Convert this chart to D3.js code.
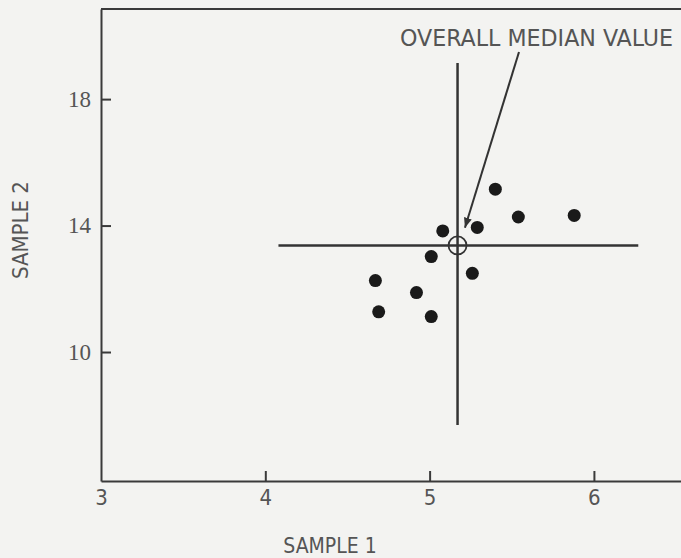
<!DOCTYPE html>
<html>
<head>
<meta charset="utf-8">
<script src="https://cdn.jsdelivr.net/npm/d3@7"></script>
<style>
  html, body { margin: 0; padding: 0; background: #f3f3f1; }
  svg { display: block; }
  .axis path, .axis line { stroke: #3a3a3a; stroke-width: 2; }
  .axis text { fill: #555; font-family: 'DejaVu Sans Condensed', sans-serif; }
</style>
</head>
<body>
<svg id="chart"></svg>
<script>
  // sample pairs
  var sample1 = [5.40, 5.54, 5.88, 5.29, 5.08, 5.01, 5.26, 4.67, 4.92, 4.69, 5.01];
  var sample2 = [15.15, 14.27, 14.32, 13.94, 13.83, 13.02, 12.49, 12.26, 11.88, 11.27, 11.12];

  var xTicks = [3, 4, 5, 6];
  var yTicks = [10, 14, 18];

  var median = { x: 5.17, y: 13.37 };
  var hLineX = [4.08, 6.27];
  var vLineY = [7.69, 19.14];
  var arrowFrom = { x: 5.544, y: 19.49 };
  var arrowTo = { x: 5.215, y: 13.93 };
  var labelText = 'OVERALL MEDIAN VALUE';

  var width = 681, height = 558;

  var svg = d3.select('#chart')
    .attr('width', width)
    .attr('height', height);

  var x = d3.scaleLinear().domain([3, 6.53]).range([101, 681]);
  var y = d3.scaleLinear().domain([5.92, 20.85]).range([481, 9]);

  var ink = '#333';

  // frame top
  svg.append('line')
    .attr('x1', x(3)).attr('x2', x(6.53))
    .attr('y1', y(20.85)).attr('y2', y(20.85))
    .attr('stroke', '#3a3a3a')
    .attr('stroke-width', 2);

  var xAxis = svg.append('g')
    .attr('class', 'axis')
    .attr('transform', 'translate(0,' + y(5.92) + ')')
    .call(d3.axisBottom(x).tickValues(xTicks).tickFormat(d3.format('d'))
      .tickSizeInner(-10).tickSizeOuter(0).tickPadding(8));
  xAxis.selectAll('text').style('font-size', '22px');
  xAxis.selectAll('.tick').filter(function(d) { return d === 3; }).select('line').remove();

  var yAxis = svg.append('g')
    .attr('class', 'axis')
    .attr('transform', 'translate(' + x(3) + ',0)')
    .call(d3.axisLeft(y).tickValues(yTicks).tickFormat(d3.format('d'))
      .tickSizeInner(-10).tickSizeOuter(0).tickPadding(10));
  yAxis.selectAll('text')
    .style('font-size', '23px')
    .style('font-family', "'Liberation Serif', serif");

  // axis titles
  svg.append('text')
    .attr('x', 330)
    .attr('y', 553)
    .attr('text-anchor', 'middle')
    .style('font-family', "'DejaVu Sans Condensed', sans-serif")
    .style('font-size', '21px')
    .style('fill', '#555')
    .text('SAMPLE 1');

  svg.append('text')
    .attr('transform', 'translate(28,230) rotate(-90)')
    .attr('text-anchor', 'middle')
    .style('font-family', "'DejaVu Sans Condensed', sans-serif")
    .style('font-size', '22px')
    .style('fill', '#555')
    .text('SAMPLE 2');

  // median cross
  svg.append('line')
    .attr('x1', x(hLineX[0])).attr('x2', x(hLineX[1]))
    .attr('y1', y(median.y)).attr('y2', y(median.y))
    .attr('stroke', ink).attr('stroke-width', 2.5);

  svg.append('line')
    .attr('x1', x(median.x)).attr('x2', x(median.x))
    .attr('y1', y(vLineY[0])).attr('y2', y(vLineY[1]))
    .attr('stroke', ink).attr('stroke-width', 2.5);

  svg.append('circle')
    .attr('cx', x(median.x))
    .attr('cy', y(median.y))
    .attr('r', 9)
    .attr('fill', 'none')
    .attr('stroke', ink)
    .attr('stroke-width', 1.8);

  // arrow to the median
  svg.append('defs').append('marker')
    .attr('id', 'head')
    .attr('viewBox', '0 0 10 10')
    .attr('refX', 10).attr('refY', 5)
    .attr('markerWidth', 5).attr('markerHeight', 5)
    .attr('markerUnits', 'strokeWidth')
    .attr('orient', 'auto')
    .append('path')
    .attr('d', 'M0,1 L10,5 L0,9 Z')
    .attr('fill', ink);

  svg.append('line')
    .attr('x1', x(arrowFrom.x)).attr('y1', y(arrowFrom.y))
    .attr('x2', x(arrowTo.x)).attr('y2', y(arrowTo.y))
    .attr('stroke', ink)
    .attr('stroke-width', 2)
    .attr('marker-end', 'url(#head)');

  svg.append('text')
    .attr('x', 400)
    .attr('y', 46)
    .attr('textLength', 273)
    .attr('lengthAdjust', 'spacingAndGlyphs')
    .style('font-family', "'DejaVu Sans Condensed', sans-serif")
    .style('font-size', '23px')
    .style('fill', '#555')
    .text(labelText);

  // points
  svg.append('g')
    .selectAll('circle')
    .data(d3.zip(sample1, sample2))
    .enter().append('circle')
    .attr('cx', function(d) { return x(d[0]); })
    .attr('cy', function(d) { return y(d[1]); })
    .attr('r', 6.5)
    .attr('fill', '#1a1a1a');
</script>
</body>
</html>
